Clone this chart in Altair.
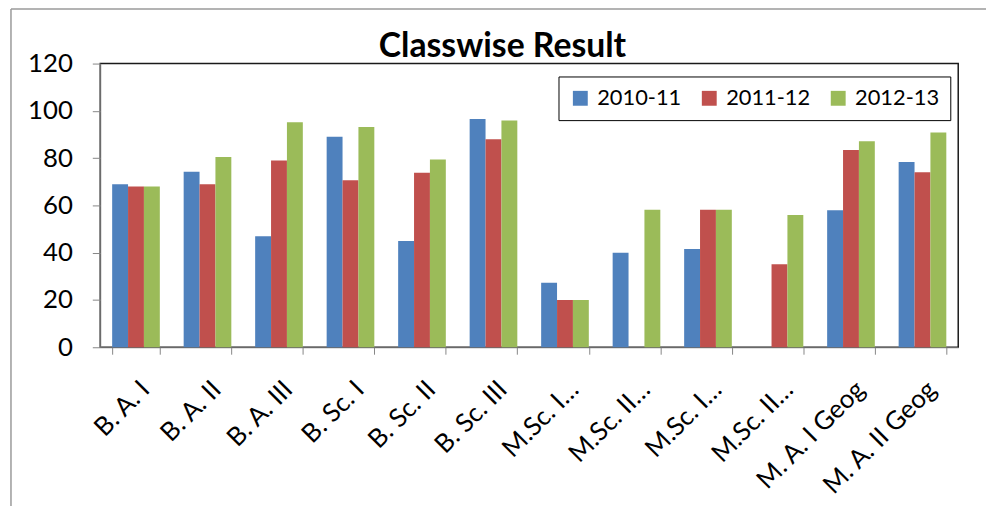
import json
import altair as alt
import pandas as pd

categories = ["B. A. I", "B. A. II", "B. A. III", "B. Sc. I", "B. Sc. II", "B. Sc. III",
              "M.Sc. I (a)", "M.Sc. II (a)", "M.Sc. I (b)", "M.Sc. II (b)",
              "M. A. I Geog", "M. A. II Geog"]
tick_labels = ["B. A. I", "B. A. II", "B. A. III", "B. Sc. I", "B. Sc. II", "B. Sc. III",
               "M.Sc. I…", "M.Sc. II…", "M.Sc. I…", "M.Sc. II…",
               "M. A. I Geog", "M. A. II Geog"]
years = ["2010-11", "2011-12", "2012-13"]
v2010_11 = [69, 74.2, 47, 89, 45, 96.6, 27.3, 40, 41.6, None, 58, 78.4]
v2011_12 = [68, 69, 79, 70.6, 73.8, 88, 20, None, 58.2, 35.1, 83.4, 74]
v2012_13 = [68, 80.5, 95.2, 93.2, 79.4, 95.9, 20, 58.2, 58.2, 56, 87.1, 90.8]
y_ticks = [0, 20, 40, 60, 80, 100, 120]
colors = ["#4F81BD", "#C0504D", "#9BBB59"]

rows = []
for yr, vals in zip(years, [v2010_11, v2011_12, v2012_13]):
    for c, v in zip(categories, vals):
        if v is not None:
            rows.append({"category": c, "year": yr, "value": v})
df = pd.DataFrame(rows)

label_expr = "%s[indexof(%s, datum.value)]" % (json.dumps(tick_labels), json.dumps(categories))

FONT = "Lato"
GRAY = "#868686"

bars = alt.Chart(df).mark_bar().encode(
    x=alt.X("category:N", sort=categories, title=None,
            scale=alt.Scale(paddingInner=1/3, paddingOuter=1/6),
            axis=alt.Axis(labelExpr=label_expr, labelAngle=-45, labelAlign="right",
                          labelBaseline="top", labelFontSize=26, labelFont=FONT,
                          labelColor="#000000", tickBand="extent", tickSize=7,
                          tickColor=GRAY, domainColor=GRAY, labelPadding=22,
                          labelLimit=300)),
    xOffset=alt.XOffset("year:N", sort=years),
    y=alt.Y("value:Q", title=None, scale=alt.Scale(domain=[0, 120], nice=False),
            axis=alt.Axis(values=y_ticks, grid=False, tickSize=8, tickColor=GRAY,
                          domainColor=GRAY, labelFontSize=26, labelFont=FONT,
                          labelColor="#000000", labelPadding=20)),
    color=alt.Color("year:N", sort=years, scale=alt.Scale(domain=years, range=colors),
                    legend=alt.Legend(title=None, orient="none", legendX=462, legendY=13,
                                      direction="horizontal", symbolType="square",
                                      symbolSize=225, symbolStrokeWidth=0,
                                      labelFontSize=22, labelFont=FONT, labelColor="#000000",
                                      columnPadding=17, labelOffset=6, padding=11,
                                      strokeColor="#000000")),
)

frame_df = pd.DataFrame({"k": [0]})
left_frame = alt.Chart(frame_df).mark_rule(color="#9a9a9a", strokeWidth=1.5).encode(
    x=alt.value(-90), y=alt.value(-55), y2=alt.value(470))
top_frame = alt.Chart(frame_df).mark_rule(color="#9a9a9a", strokeWidth=1.5).encode(
    x=alt.value(-90), x2=alt.value(900), y=alt.value(-55))

chart = alt.layer(left_frame, top_frame, bars).properties(
    width=865, height=286,
    padding={"left": 93, "top": 54, "right": 28, "bottom": 158},
    autosize=alt.AutoSizeParams(type="none"),
    title=alt.TitleParams("Classwise Result", font=FONT, fontSize=34, fontWeight="bold",
                          color="#000000", anchor="middle", frame="group", offset=0,
                          dx=-27, dy=83, baseline="alphabetic"),
).configure_view(stroke="#1a1a1a", strokeWidth=1.5)

chart.save("out.html", embed_options={"renderer": "svg", "actions": False})
